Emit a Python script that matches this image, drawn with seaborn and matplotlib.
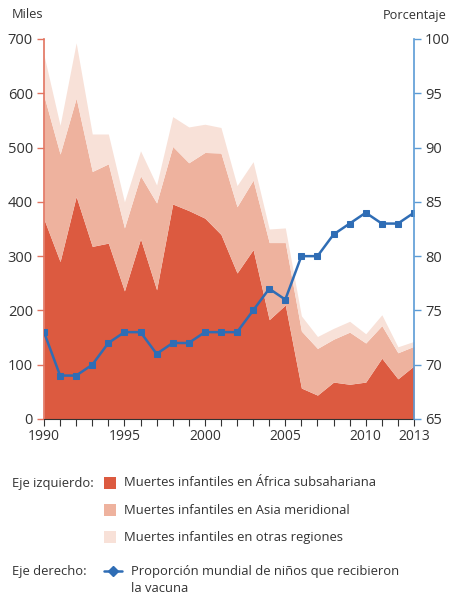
import numpy as np
import pandas as pd
import matplotlib
matplotlib.use("Agg")
import matplotlib.pyplot as plt
import seaborn as sns
from matplotlib.patches import Rectangle
from matplotlib.lines import Line2D

years = list(range(1990, 2014))
africa = [368, 290, 410, 318, 324, 236, 332, 238, 396, 384, 370, 340,
          269, 312, 183, 210, 57, 44, 68, 64, 68, 112, 74, 98]
asia = [227, 198, 181, 138, 146, 116, 116, 160, 106, 88, 121, 150,
        122, 128, 142, 115, 105, 86, 79, 96, 72, 60, 48, 36]
otras = [75, 53, 102, 69, 55, 48, 46, 33, 55, 66, 52, 47,
         39, 34, 25, 27, 28, 22, 20, 20, 17, 20, 11, 9]
vacuna = [73, 69, 69, 70, 72, 73, 73, 71, 72, 72, 73, 73,
          73, 75, 77, 76, 80, 80, 82, 83, 84, 83, 83, 84]
xtick_labels = [1990, 1995, 2000, 2005, 2010, 2013]
left_ticks = [0, 100, 200, 300, 400, 500, 600, 700]
right_ticks = [65, 70, 75, 80, 85, 90, 95, 100]
labels = ["Muertes infantiles en África subsahariana",
          "Muertes infantiles en Asia meridional",
          "Muertes infantiles en otras regiones"]
line_label = ["Proporción mundial de niños que recibieron", "la vacuna"]

sns.set_style("white")
plt.rcParams['font.family'] = ['Open Sans', 'DejaVu Sans']

c_af = "#DC5A40"
c_as = "#EEB29E"
c_ot = "#F8E1D8"
c_blue = "#2F6DB5"
c_red_axis = "#E2735F"
c_blue_axis = "#5B9BD5"
txt = "#333333"

df = pd.DataFrame({"year": years, "vacuna": vacuna})

fig = plt.figure(figsize=(4.49, 5.97), dpi=100)
ax = fig.add_axes([44/449, 1-419/597, 370/449, 380/597])
ax.stackplot(years, africa, asia, otras, colors=[c_af, c_as, c_ot], linewidth=0)
ax.set_xlim(1990, 2013)
ax.set_ylim(0, 700)
ax.set_yticks(left_ticks)
ax.set_xticks(xtick_labels)
ax.set_xticks(years, minor=True)
ax.tick_params(axis='y', colors=c_red_axis, labelcolor=txt, labelsize=10.5,
               direction='out', length=5, width=1, pad=3, left=True)
ax.tick_params(axis='x', which='both', colors="#333333", labelcolor=txt,
               labelsize=10, direction='out', length=5, width=0.8, bottom=True, pad=2)
for s in ['top', 'right']:
    ax.spines[s].set_visible(False)
ax.spines['left'].set_color(c_red_axis)
ax.spines['left'].set_linewidth(1.2)
ax.spines['bottom'].set_color("#333333")
ax.spines['bottom'].set_linewidth(0.8)
ax.set_xlabel("")
ax.set_ylabel("")

ax2 = ax.twinx()
sns.lineplot(data=df, x="year", y="vacuna", ax=ax2, color=c_blue, linewidth=1.8,
             marker="s", markersize=5, markeredgecolor=c_blue, legend=False)
ax2.set_ylim(65, 100)
ax2.set_yticks(right_ticks)
ax2.tick_params(axis='y', colors=c_blue_axis, labelcolor=txt, labelsize=10.5,
                direction='out', length=5, width=1, pad=3, right=True)
for s in ['top', 'left', 'bottom']:
    ax2.spines[s].set_visible(False)
ax2.spines['right'].set_color(c_blue_axis)
ax2.spines['right'].set_linewidth(1.2)
ax2.set_xlabel("")
ax2.set_ylabel("")
ax2.set_xlim(1990, 2013)

fig.text(12/449, 1-14/597, "Miles", fontsize=9.3, color=txt, va='center', ha='left')
fig.text(447/449, 1-16/597, "Porcentaje", fontsize=9.2, color=txt, va='center', ha='right')

# Legend
fs = 9.4
fig.text(12/449, 1-483/597, "Eje izquierdo:", fontsize=fs, color=txt, va='center')
ys = [483, 510, 537]
for y, c, lab in zip(ys, [c_af, c_as, c_ot], labels):
    fig.patches.append(Rectangle((104/449, 1-(y+6)/597), 12/449, 12/597,
                                 transform=fig.transFigure, facecolor=c, edgecolor='none'))
    fig.text(124/449, 1-y/597, lab, fontsize=fs, color=txt, va='center')
fig.text(12/449, 1-571/597, "Eje derecho:", fontsize=fs, color=txt, va='center')
fig.lines.append(Line2D([104/449, 122/449], [1-571/597, 1-571/597], transform=fig.transFigure,
                        color=c_blue, linewidth=1.8))
fig.lines.append(Line2D([113/449], [1-571/597], transform=fig.transFigure, color=c_blue,
                        marker='D', markersize=5, linewidth=0))
fig.text(131/449, 1-571/597, line_label[0], fontsize=fs, color=txt, va='center')
fig.text(131/449, 1-588/597, line_label[1], fontsize=fs, color=txt, va='center')

fig.savefig("out.png", dpi=100)
